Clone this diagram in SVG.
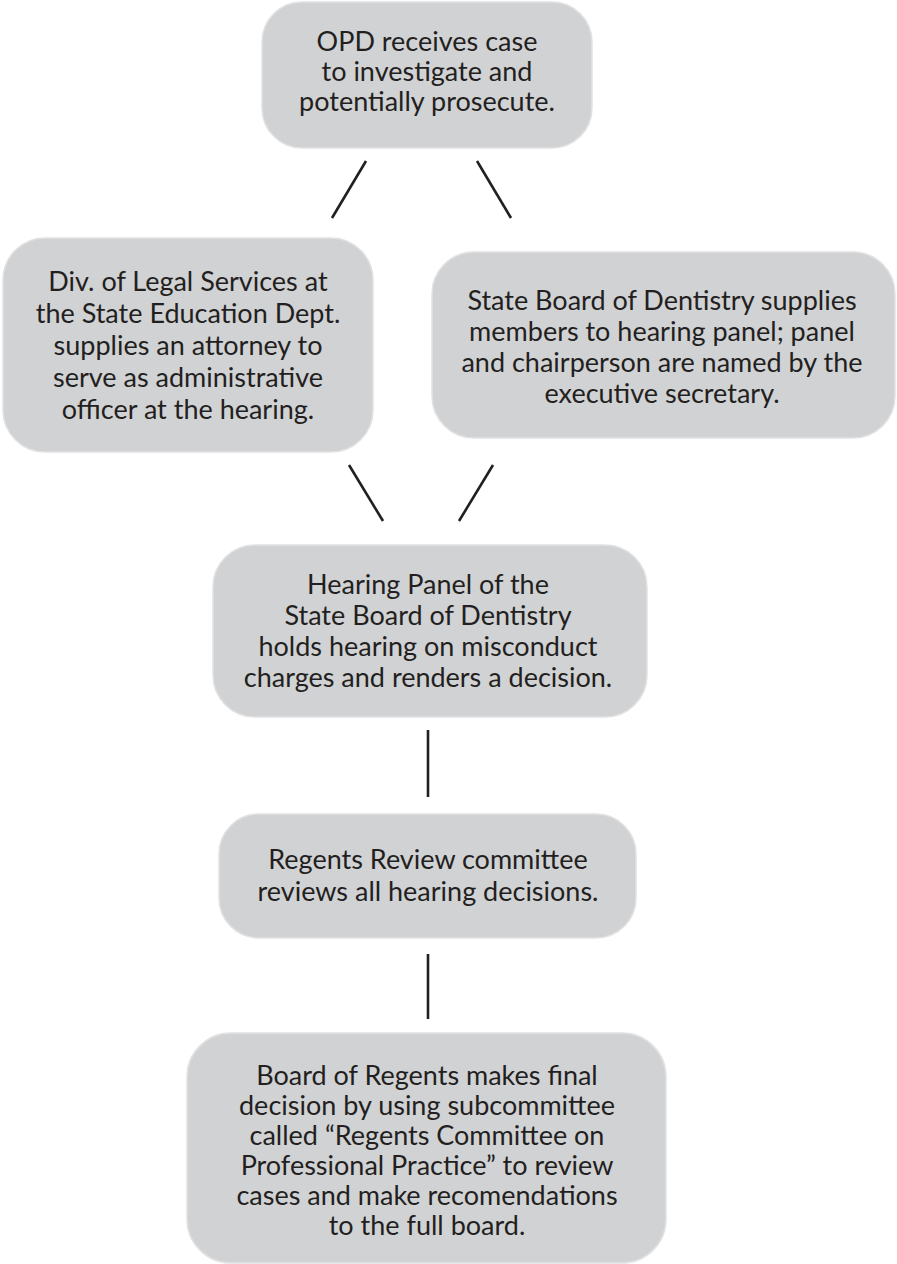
<svg xmlns="http://www.w3.org/2000/svg" width="897" height="1264" viewBox="0 0 897 1264">
<style>
.box{fill:#d1d2d4;stroke:#e2e2e3;stroke-width:1.5}
.t{font-family:Lato,"Liberation Sans",sans-serif;font-size:27px;fill:#231f20;text-anchor:middle}
.c{stroke:#231f20;stroke-width:2.6;fill:none}
</style>
<rect width="897" height="1264" fill="#ffffff"/>
<g id="connectors">
<line class="c" x1="366" y1="161" x2="332" y2="218"/>
<line class="c" x1="477" y1="161" x2="511" y2="218"/>
<line class="c" x1="349" y1="465" x2="383" y2="521"/>
<line class="c" x1="493" y1="465" x2="459" y2="521"/>
<line class="c" x1="428" y1="730" x2="428" y2="797"/>
<line class="c" x1="428" y1="954" x2="428" y2="1019"/>
</g>
<g id="n1">
<rect class="box" x="262" y="2" width="330" height="146" rx="40"/>
<text class="t"><tspan x="427" y="51">OPD receives case</tspan><tspan x="427" y="81">to investigate and</tspan><tspan x="427" y="111">potentially prosecute.</tspan></text>
</g>
<g id="n2">
<rect class="box" x="3" y="238" width="370" height="214" rx="42"/>
<text class="t"><tspan x="188" y="291">Div. of Legal Services at</tspan><tspan x="188" y="323">the State Education Dept.</tspan><tspan x="188" y="355">supplies an attorney to</tspan><tspan x="188" y="387">serve as administrative</tspan><tspan x="188" y="419">officer at the hearing.</tspan></text>
</g>
<g id="n3">
<rect class="box" x="432" y="252" width="463" height="186" rx="42"/>
<text class="t"><tspan x="662" y="310">State Board of Dentistry supplies</tspan><tspan x="662" y="341">members to hearing panel; panel</tspan><tspan x="662" y="372">and chairperson are named by the</tspan><tspan x="662" y="403">executive secretary.</tspan></text>
</g>
<g id="n4">
<rect class="box" x="213" y="545" width="434" height="172" rx="42"/>
<text class="t"><tspan x="428" y="594">Hearing Panel of the</tspan><tspan x="428" y="625">State Board of Dentistry</tspan><tspan x="428" y="656">holds hearing on misconduct</tspan><tspan x="428" y="687">charges and renders a decision.</tspan></text>
</g>
<g id="n5">
<rect class="box" x="219" y="814" width="417" height="124" rx="40"/>
<text class="t"><tspan x="428" y="869">Regents Review committee</tspan><tspan x="428" y="901">reviews all hearing decisions.</tspan></text>
</g>
<g id="n6">
<rect class="box" x="187" y="1033" width="479" height="230" rx="44"/>
<text class="t"><tspan x="427" y="1085">Board of Regents makes final</tspan><tspan x="427" y="1115">decision by using subcommittee</tspan><tspan x="427" y="1145">called “Regents Committee on</tspan><tspan x="427" y="1175">Professional Practice” to review</tspan><tspan x="427" y="1205">cases and make recomendations</tspan><tspan x="427" y="1235">to the full board.</tspan></text>
</g>
</svg>
